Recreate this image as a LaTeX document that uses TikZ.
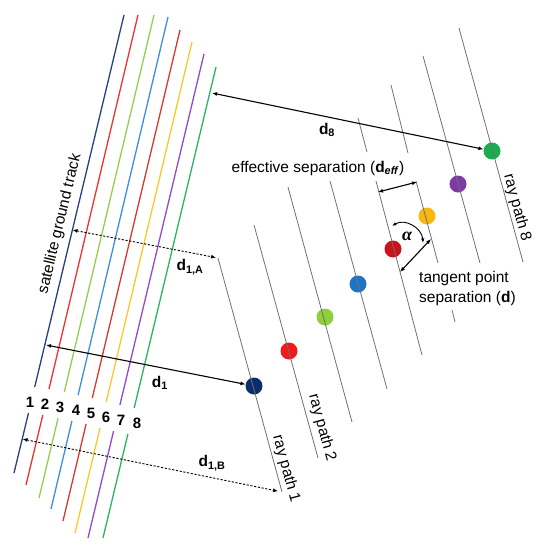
\documentclass[tikz,border=0pt]{standalone}
\usepackage{fontspec}
\setmainfont{Liberation Sans}
\newfontfamily\greekserif{Liberation Serif}
\usetikzlibrary{arrows.meta}
\definecolor{c1}{HTML}{2A3F7F}
\definecolor{c2}{HTML}{E9352F}
\definecolor{c3}{HTML}{96CC52}
\definecolor{c4}{HTML}{3D8FDC}
\definecolor{c5}{HTML}{D8392E}
\definecolor{c6}{HTML}{F8C82C}
\definecolor{c7}{HTML}{9449C9}
\definecolor{c8}{HTML}{2BB460}
\definecolor{d1}{HTML}{0B2D6B}
\definecolor{d2}{HTML}{F01A1A}
\definecolor{d3}{HTML}{8CCF3F}
\definecolor{d4}{HTML}{1F74C8}
\definecolor{d5}{HTML}{C8141E}
\definecolor{d6}{HTML}{F9B80F}
\definecolor{d7}{HTML}{7D3AA3}
\definecolor{d8}{HTML}{1AAD4B}
\definecolor{raygray}{HTML}{707070}
\begin{document}
\begin{tikzpicture}[x=1pt,y=-1pt,
  gtrack/.style={line width=1.3pt},
  raypath/.style={draw=raygray, line width=0.8pt},
  dot/.style={circle, inner sep=0pt, minimum size=17pt, draw=none},
  dimline/.style={line width=1.1pt, {Latex[length=5pt,width=4pt]}-{Latex[length=5pt,width=4pt]}},
  dimdash/.style={dimline, line width=0.9pt, dash pattern=on 2.2pt off 1.6pt},
  lbl/.style={font=\fontsize{15.5}{20}\selectfont, inner sep=0pt},
  numlbl/.style={font=\fontsize{15}{18}\selectfont\bfseries, inner sep=0pt}]
\useasboundingbox (0,0) rectangle (547,550);

% satellite ground tracks (two segments each, gap for the number)
\draw[gtrack, c1] (124,15) -- (34.7,387)  (28.5,413) -- (14,473);
\draw[gtrack, c2] (138,15) -- (49.0,389)  (42.8,415) -- (26,485);
\draw[gtrack, c3] (154,15) -- (64.3,392)  (58.1,418) -- (39,498);
\draw[gtrack, c4] (168,17) -- (78.1,395)  (71.9,421) -- (51,509);
\draw[gtrack, c5] (180,30) -- (92.3,398)  (86.1,424) -- (63,521);
\draw[gtrack, c6] (192,42) -- (106.2,402) (100,428) -- (75,533);
\draw[gtrack, c7] (204,54) -- (119.9,405) (113.6,431) -- (88,538);
\draw[gtrack, c8] (216,67) -- (134.2,408) (127.9,434) -- (103,538);

\node[numlbl] (n1) at (30,402) {1};
\node[numlbl] (n2) at (45,404) {2};
\node[numlbl] (n3) at (60,407) {3};
\node[numlbl] (n4) at (76,410) {4};
\node[numlbl] (n5) at (91,413) {5};
\node[numlbl] (n6) at (106,417) {6};
\node[numlbl] (n7) at (121,420) {7};
\node[numlbl] (n8) at (137,423) {8};

\node[lbl, rotate=76.5] (sgt) at (60,224) {satellite ground track};

% tangent points
\node[dot, fill=d1] (p1) at (254,386) {};
\node[dot, fill=d2] (p2) at (289,351) {};
\node[dot, fill=d3] (p3) at (325,317) {};
\node[dot, fill=d4] (p4) at (358,284) {};
\node[dot, fill=d5] (p5) at (393,249) {};
\node[dot, fill=d6] (p6) at (427,216) {};
\node[dot, fill=d7] (p7) at (458,184) {};
\node[dot, fill=d8] (p8) at (492,151) {};

% ray paths
\coordinate (r1t) at (218,258);
\coordinate (r1b) at (282,492);
\draw[raypath] (r1t) -- (r1b);
\draw[raypath] (254,225) -- (318,458);
\draw[raypath] (288,187) -- (352,422);
\draw[raypath] (330,181) -- (387,389);
\draw[raypath] (358,118) -- (367,152) (376,181) -- (422,355);
\draw[raypath] (391,85) -- (408,153) (416,181) -- (438,263) (452,310) -- (455,322);
\draw[raypath] (423,56) -- (480,263);
\draw[raypath] (459,28) -- (523,262);

\node[lbl, rotate=-74.7] (rp1) at (286,469) {ray path 1};
\node[lbl, rotate=-74.7] (rp2) at (322,428) {ray path 2};
\node[lbl, rotate=-74.7] (rp8) at (517,208) {ray path 8};

% distance arrows
\coordinate (g8) at (212,93);
\coordinate (g1) at (46,345);
\coordinate (g1a) at (72.5,230);
\coordinate (g1b) at (22.5,439);
\draw[dimline] (g8) -- (p8);
\draw[dimline] (g1) -- (p1);
\draw[dimdash, shorten >=2pt] (g1a) -- (r1t);
\draw[dimdash, shorten >=4pt] (g1b) -- (r1b);

\node[lbl] (ld8) at (327,130) {\textbf{d\textsubscript{8}}};
\node[lbl] (ld1) at (160,383) {\textbf{d\textsubscript{1}}};
\node[lbl] (ld1a) at (190,267) {\textbf{d\textsubscript{1,A}}};
\node[lbl] (ld1b) at (212,463) {\textbf{d\textsubscript{1,B}}};

% effective separation and tangent point separation
\node[lbl] (eff) at (318,168) {effective separation (\textbf{d\textsubscript{\textit{eff}}})};
\coordinate (e5) at (378,192);
\coordinate (e6) at (417,182);
\draw[dimline] (e5) -- (e6);
\coordinate (t5) at (400,272);
\coordinate (t6) at (431,239);
\draw[dimline] (t5) -- (t6);
\coordinate (a1) at (392,226);
\coordinate (a2) at (423,243);
\draw[line width=0.9pt, {Latex[length=4.5pt,width=3.5pt]}-{Latex[length=4.5pt,width=3.5pt]}] (a1) .. controls (405,218) and (422,228) .. (a2);
\node[inner sep=0pt, font=\fontsize{18}{20}\selectfont\greekserif\bfseries\itshape] (alpha) at (407,236) {α};
\node[lbl, align=left, anchor=west] (tps) at (419,288) {tangent point\\separation (\textbf{d})};
\end{tikzpicture}
\end{document}
